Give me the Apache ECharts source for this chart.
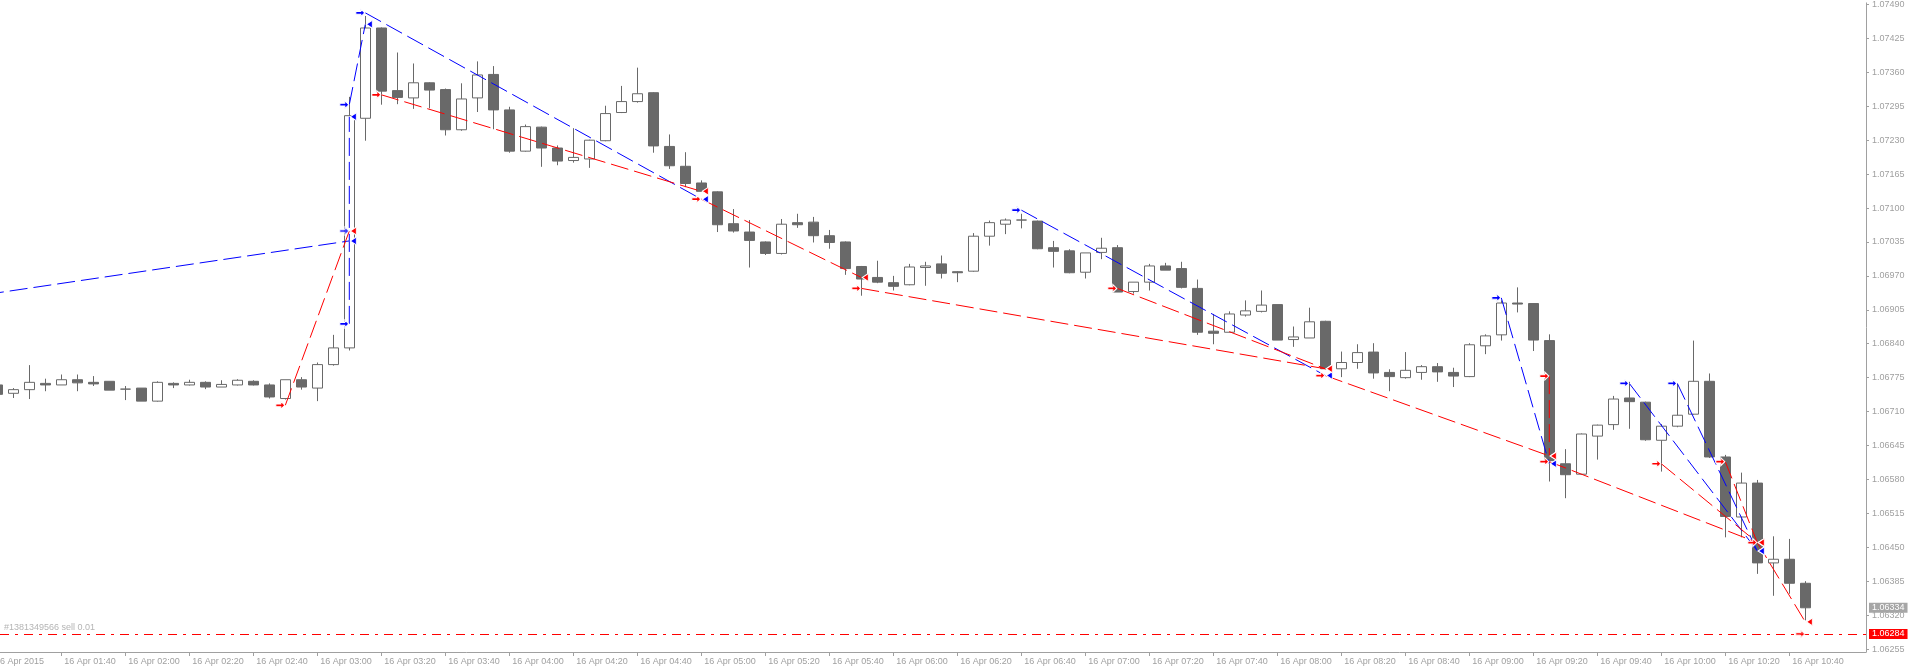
<!DOCTYPE html>
<html><head><meta charset="utf-8">
<script src="https://cdn.jsdelivr.net/npm/echarts@6/dist/echarts.min.js"></script>
<style>html,body{margin:0;padding:0;background:#ffffff}#c{width:1908px;height:669px}</style>
</head><body><div id="c"></div>
<script>
// ---- data (EURUSD M5, 16 Apr 2015) ----
const times = ['01:20','01:25','01:30','01:35','01:40','01:45','01:50','01:55','02:00','02:05','02:10','02:15','02:20','02:25','02:30','02:35','02:40','02:45','02:50','02:55',
'03:00','03:05','03:10','03:15','03:20','03:25','03:30','03:35','03:40','03:45','03:50','03:55','04:00','04:05','04:10','04:15','04:20','04:25','04:30','04:35',
'04:40','04:45','04:50','04:55','05:00','05:05','05:10','05:15','05:20','05:25','05:30','05:35','05:40','05:45','05:50','05:55','06:00','06:05','06:10','06:15',
'06:20','06:25','06:30','06:35','06:40','06:45','06:50','06:55','07:00','07:05','07:10','07:15','07:20','07:25','07:30','07:35','07:40','07:45','07:50','07:55',
'08:00','08:05','08:10','08:15','08:20','08:25','08:30','08:35','08:40','08:45','08:50','08:55','09:00','09:05','09:10','09:15','09:20','09:25','09:30','09:35',
'09:40','09:45','09:50','09:55','10:00','10:05','10:10','10:15','10:20','10:25','10:30','10:35','10:40','10:45'];
const openP = [1.06761,1.06745,1.06752,1.06764,1.06761,1.06771,1.06766,1.06768,1.06753,1.06755,1.06730,1.06764,1.06761,1.06766,1.06757,1.06761,1.06768,1.06761,1.06735,1.06771,
1.06755,1.06800,1.06832,1.07272,1.07445,1.07325,1.07311,1.07340,1.07327,1.07250,1.07311,1.07356,1.07288,1.07209,1.07255,1.07215,1.07191,1.07194,1.07229,1.07283,
1.07304,1.07321,1.07218,1.07180,1.07148,1.07131,1.07070,1.07054,1.07035,1.07013,1.07072,1.07073,1.07047,1.07035,1.06988,1.06967,1.06957,1.06953,1.06986,1.06993,
1.06978,1.06979,1.07046,1.07069,1.07077,1.07075,1.07024,1.07018,1.06977,1.07015,1.07024,1.06940,1.06958,1.06989,1.06984,1.06946,1.06864,1.06862,1.06895,1.06902,
1.06915,1.06848,1.06851,1.06883,1.06792,1.06804,1.06824,1.06785,1.06775,1.06785,1.06796,1.06785,1.06777,1.06836,1.06857,1.06918,1.06917,1.06846,1.06610,1.06590,
1.06663,1.06685,1.06736,1.06728,1.06655,1.06682,1.06705,1.06768,1.06623,1.06508,1.06573,1.06420,1.06427,1.06381];
const highP = [1.06763,1.06755,1.06799,1.06773,1.06781,1.06781,1.06778,1.06768,1.06759,1.06755,1.06768,1.06766,1.06771,1.06768,1.06770,1.06772,1.06770,1.06764,1.06771,1.06776,
1.06804,1.06857,1.07313,1.07468,1.07446,1.07398,1.07377,1.07341,1.07329,1.07339,1.07381,1.07372,1.07294,1.07260,1.07256,1.07220,1.07253,1.07231,1.07296,1.07334,
1.07369,1.07322,1.07241,1.07207,1.07153,1.07132,1.07098,1.07077,1.07036,1.07079,1.07089,1.07083,1.07058,1.07036,1.06989,1.06999,1.06970,1.06993,1.06997,1.07009,
1.06979,1.07052,1.07076,1.07080,1.07089,1.07076,1.07037,1.07021,1.07014,1.07043,1.07029,1.06958,1.06993,1.06995,1.06997,1.06963,1.06897,1.06902,1.06923,1.06942,
1.06915,1.06873,1.06909,1.06884,1.06825,1.06839,1.06841,1.06791,1.06824,1.06799,1.06803,1.06794,1.06841,1.06858,1.06923,1.06948,1.06918,1.06858,1.06638,1.06668,
1.06685,1.06740,1.06767,1.06729,1.06686,1.06764,1.06846,1.06783,1.06627,1.06593,1.06579,1.06471,1.06466,1.06385];
const lowP = [1.06741,1.06736,1.06734,1.06749,1.06761,1.06749,1.06759,1.06751,1.06732,1.06730,1.06729,1.06755,1.06760,1.06753,1.06757,1.06760,1.06760,1.06735,1.06733,1.06752,
1.06730,1.06798,1.06827,1.07229,1.07298,1.07299,1.07290,1.07291,1.07239,1.07248,1.07284,1.07251,1.07206,1.07208,1.07179,1.07182,1.07187,1.07177,1.07228,1.07282,
1.07302,1.07206,1.07175,1.07140,1.07131,1.07054,1.07053,1.06986,1.07010,1.07011,1.07062,1.07034,1.07022,1.06972,1.06932,1.06956,1.06942,1.06952,1.06951,1.06965,
1.06958,1.06978,1.07028,1.07050,1.07061,1.07021,1.06986,1.06975,1.06965,1.07002,1.06939,1.06936,1.06942,1.06981,1.06946,1.06857,1.06839,1.06862,1.06892,1.06900,
1.06847,1.06834,1.06851,1.06791,1.06776,1.06792,1.06773,1.06749,1.06773,1.06771,1.06767,1.06757,1.06776,1.06820,1.06846,1.06900,1.06826,1.06576,1.06544,1.06589,
1.06618,1.06675,1.06677,1.06654,1.06595,1.06680,1.06704,1.06621,1.06469,1.06469,1.06399,1.06357,1.06361,1.06310];
const closeP = [1.06743,1.06752,1.06766,1.06761,1.06771,1.06765,1.06763,1.06751,1.06753,1.06730,1.06766,1.06761,1.06766,1.06757,1.06762,1.06770,1.06761,1.06738,1.06771,1.06757,
1.06800,1.06832,1.07277,1.07445,1.07324,1.07312,1.07340,1.07326,1.07250,1.07309,1.07355,1.07288,1.07209,1.07256,1.07215,1.07190,1.07197,1.07230,1.07281,1.07304,
1.07319,1.07219,1.07181,1.07147,1.07132,1.07068,1.07056,1.07038,1.07013,1.07069,1.07068,1.07047,1.07034,1.06984,1.06964,1.06958,1.06950,1.06987,1.06989,1.06975,
1.06976,1.07046,1.07072,1.07077,1.07077,1.07022,1.07017,1.06976,1.07014,1.07023,1.06939,1.06958,1.06989,1.06981,1.06948,1.06862,1.06860,1.06897,1.06903,1.06914,
1.06847,1.06853,1.06882,1.06792,1.06804,1.06823,1.06784,1.06777,1.06789,1.06796,1.06786,1.06778,1.06838,1.06855,1.06918,1.06916,1.06847,1.06616,1.06589,1.06667,
1.06684,1.06734,1.06729,1.06656,1.06682,1.06703,1.06768,1.06623,1.06509,1.06573,1.06420,1.06427,1.06381,1.06334];

const xTickTimes = ['01:40','02:00','02:20','02:40','03:00','03:20','03:40','04:00','04:20','04:40','05:00','05:20','05:40','06:00',
'06:20','06:40','07:00','07:20','07:40','08:00','08:20','08:40','09:00','09:20','09:40','10:00','10:20','10:40'];
const firstDateLabel = '16 Apr 2015';
const datePrefix = '16 Apr ';
const yTicks = [1.06255,1.06320,1.06385,1.06450,1.06515,1.06580,1.06645,1.06710,1.06775,1.06840,1.06905,1.06970,1.07035,1.07100,1.07165,1.07230,1.07295,1.07360,1.07425,1.07490];

// trades: [open bar index, open price, close bar index, close price]
const buyTrades = [
  [-20, 1.06847, 22, 1.07037],
  [22, 1.06878, 22, 1.07275],
  [22, 1.07298, 23, 1.07452],
  [23, 1.07474, 44, 1.07117],
  [64, 1.07096, 83, 1.06779],
  [94, 1.06928, 97, 1.06610],
  [102, 1.06764, 110, 1.06443],
  [105, 1.06764, 110, 1.06443]
];
const buyExtraOpens = [[22, 1.07056]];
const sellTrades = [
  [18, 1.06722, 22, 1.07056],
  [24, 1.07317, 44, 1.07132],
  [44, 1.07117, 54, 1.06967],
  [54, 1.06946, 83, 1.06792],
  [70, 1.06946, 83, 1.06792],
  [83, 1.06779, 97, 1.06625],
  [97, 1.06778, 97, 1.06625],
  [97, 1.06614, 110, 1.06459],
  [104, 1.06610, 110, 1.06459],
  [108, 1.06614, 110, 1.06459],
  [110, 1.06459, 113, 1.06307]
];
const openOrder = {bar: 113, price: 1.06284, label: '#1381349566 sell 0.01'};
const bidPrice = 1.06334;

// ---- layout / style ----
const yMin = 1.062493, yMax = 1.074931;
const xMin = 0.16875, xMax = 116.794;
const AX = '#a0a0a0';
const FONT = 'Liberation Sans';
const BLUE = '#0000ff', RED = '#ff0000';
const CLEAR = 'rgba(0,0,0,0)';
const OPEN_SYM = 'path://M0,3 L5,3 L5,0 L9,4.5 L5,9 L5,6 L0,6 Z';
const CLOSE_SYM = 'path://M0,4 L6,0 L6,8 Z';

const candleData = times.map((t, i) => [i, openP[i], closeP[i], lowP[i], highP[i]]);
const tickIdx = xTickTimes.map(t => times.indexOf(t));

function openPt(i, p) { return {value: [i, p], symbol: OPEN_SYM, symbolSize: [9, 8], symbolOffset: [-5, 0]}; }
function closePt(i, p) { return {value: [i, p], symbol: CLOSE_SYM, symbolSize: [6, 8], symbolOffset: [4, 0]}; }
function tradeSeries(tr, color) {
  return {
    type: 'line', silent: true, animation: false, z: 5, clip: true,
    data: [openPt(tr[0], tr[1]), closePt(tr[2], tr[3])],
    showSymbol: true,
    lineStyle: {color: color, width: 1, type: [18, 6]},
    itemStyle: {color: color, borderColor: '#ffffff', borderWidth: 1}
  };
}
const tagLabel = (bg) => ({show: true, position: 'end', formatter: p => p.value.toFixed(5), color: '#ffffff', backgroundColor: bg,
  padding: [1, 3, 0, 3], lineHeight: 9, distance: 3, fontFamily: FONT, fontSize: 9});

const series = [{
  type: 'candlestick', animation: false, silent: true, clip: true,
  data: candleData,
  encode: {x: 0, y: [1, 2, 3, 4]},
  barWidth: 10,
  itemStyle: {color: '#ffffff', color0: '#696969', borderColor: '#696969', borderColor0: '#696969', borderColorDoji: '#696969', borderWidth: 1}
}, {
  // holder of the order line and the right-hand price tags
  type: 'line', data: [], clip: false, silent: true, animation: false, z: 7,
  markLine: {
    silent: true, animation: false, symbol: ['none', 'none'], precision: 5,
    data: [
      {yAxis: openOrder.price, lineStyle: {color: RED, width: 1, type: [9, 6, 3, 6]},
       label: {show: true, position: 'insideStartTop', formatter: openOrder.label, color: '#b4b4b4', fontFamily: FONT, fontSize: 9, distance: [4, 2]}},
      {yAxis: openOrder.price, lineStyle: {color: CLEAR, width: 1, type: 'solid'}, label: tagLabel(RED)},
      {yAxis: bidPrice, lineStyle: {color: CLEAR, width: 1, type: 'solid'}, label: tagLabel('#a6a6a6')}
    ]
  }
}];
buyTrades.forEach(tr => series.push(tradeSeries(tr, BLUE)));
sellTrades.forEach(tr => series.push(tradeSeries(tr, RED)));
series.push({
  type: 'scatter', silent: true, animation: false, z: 6,
  data: buyExtraOpens.map(p => openPt(p[0], p[1])),
  itemStyle: {color: BLUE, borderColor: '#ffffff', borderWidth: 1}
});
series.push({
  type: 'scatter', silent: true, animation: false, z: 6,
  data: [openPt(openOrder.bar, openOrder.price)],
  itemStyle: {color: RED, borderColor: '#ffffff', borderWidth: 1}
});

const chart = echarts.init(document.getElementById('c'), null, {renderer: 'canvas'});
chart.setOption({
  backgroundColor: '#ffffff',
  animation: false,
  grid: {left: 0, right: 42, top: 0, bottom: 17, containLabel: false},
  xAxis: {
    type: 'value', min: xMin, max: xMax,
    axisLine: {show: true, onZero: false, lineStyle: {color: AX, width: 1}},
    axisTick: {show: true, customValues: tickIdx, length: 4, lineStyle: {color: AX}},
    axisLabel: {show: true, customValues: tickIdx, formatter: v => datePrefix + times[Math.round(v)], align: 'left', padding: [0, 0, 0, 3],
                margin: 5, color: AX, fontFamily: FONT, fontSize: 9},
    splitLine: {show: false}
  },
  yAxis: {
    type: 'value', position: 'right', min: yMin, max: yMax, scale: true,
    axisLine: {show: true, onZero: false, lineStyle: {color: AX, width: 1}},
    axisTick: {show: true, customValues: yTicks, length: 3, lineStyle: {color: AX}},
    axisLabel: {show: true, customValues: yTicks, formatter: v => v.toFixed(5), margin: 6, color: AX, fontFamily: FONT, fontSize: 9},
    splitLine: {show: false}
  },
  graphic: [{type: 'text', x: -5, y: 657, silent: true,
    style: {text: firstDateLabel, fill: AX, font: '9px "Liberation Sans"'}}],
  series: series
});
</script></body></html>
